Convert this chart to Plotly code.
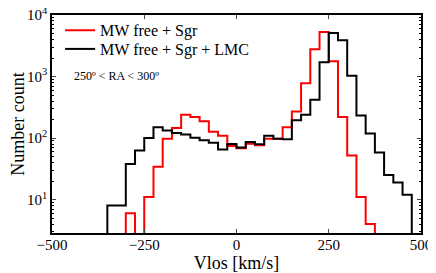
import numpy as np
import plotly.graph_objects as go

# Histogram bin left edges (25 km/s bins) and counts
bin_left = list(range(-500, 500, 25))
bin_width = 25

black_counts = {
    -350: 8, -325: 8, -300: 38, -275: 63, -250: 100, -225: 150, -200: 132,
    -175: 121, -150: 114, -125: 101, -100: 92, -75: 84, -50: 65, -25: 80,
    0: 70, 25: 86, 50: 79, 75: 109, 100: 97, 125: 96, 150: 195, 175: 240,
    200: 418, 225: 1700, 250: 5100, 275: 3900, 300: 1030, 325: 232,
    350: 118, 375: 58, 400: 25, 425: 19, 450: 12,
}
red_counts = {
    -300: 6, -250: 11, -225: 34, -200: 97, -175: 146, -150: 240, -125: 219,
    -100: 188, -75: 127, -50: 109, -25: 74, 0: 68, 25: 81, 50: 76, 75: 97,
    100: 97, 125: 150, 150: 270, 175: 777, 200: 2770, 225: 5300, 250: 1770,
    275: 220, 300: 52, 325: 11, 350: 4,
}

series_names = ["MW free + Sgr", "MW free + Sgr + LMC"]
series_colors = ["#ff0000", "#000000"]

x_ticks = [-500, -250, 0, 250, 500]
y_tickvals = [10, 100, 1000, 10000]
y_ticktext = ["10<sup>1</sup>", "10<sup>2</sup>", "10<sup>3</sup>", "10<sup>4</sup>"]

FLOOR = 0.05  # stand-in for empty bins (below the visible range)


def stairs(counts):
    vals = [counts.get(b, 0) for b in bin_left]
    vals = [v if v > 0 else FLOOR for v in vals]
    xs = bin_left + [bin_left[-1] + bin_width]
    ys = vals + [vals[-1]]
    return xs, ys


fig = go.Figure()
for i, (name, counts, color) in enumerate(zip(series_names, [red_counts, black_counts], series_colors)):
    xs, ys = stairs(counts)
    fig.add_trace(go.Scatter(x=xs, y=ys, mode="lines", name=name,
                             legend="legend" if i == 0 else "legend2",
                             line=dict(color=color, width=2, shape="hv")))

minor_vals = [k * 10 ** n for n in range(0, 4) for k in range(2, 10)]

font_family = "Liberation Serif, Times New Roman, serif"
legend_common = dict(xanchor="left", yanchor="middle", bgcolor="rgba(0,0,0,0)",
                     font=dict(size=16), itemwidth=30, borderwidth=0)
fig.update_layout(
    width=428, height=265,
    margin=dict(l=44, r=15, t=5, b=40),
    paper_bgcolor="white", plot_bgcolor="white",
    font=dict(family=font_family, size=15, color="black"),
    showlegend=True,
    legend=dict(x=0.022, y=0.930, **legend_common),
    legend2=dict(x=0.022, y=0.844, **legend_common),
    xaxis=dict(range=[-500, 500], tickvals=x_ticks, ticks="inside", ticklen=4,
               showline=True, linecolor="black", linewidth=1.6, mirror="ticks",
               showgrid=False, zeroline=False, automargin=False,
               ticklabelstandoff=-3, ticklabeloverflow="allow",
               title=dict(text="Vlos [km/s]", font=dict(size=18), standoff=0)),
    yaxis=dict(type="log", range=[np.log10(2.86), 4], tickvals=y_tickvals,
               ticktext=y_ticktext, ticks="inside", ticklen=4,
               showline=True, linecolor="black", linewidth=1.6, mirror="ticks",
               showgrid=False, zeroline=False, automargin=False,
               ticklabeloverflow="allow",
               minor=dict(ticks="inside", ticklen=2, tickvals=minor_vals,
                          tickcolor="black", showgrid=False),
               title=dict(text="Number count", font=dict(size=18), standoff=2)),
    annotations=[dict(text="250º < RA < 300º", xref="paper", yref="paper",
                      x=0.054, y=0.721, xanchor="left", yanchor="middle",
                      showarrow=False, font=dict(size=12))],
)

fig.write_html("out.html")
